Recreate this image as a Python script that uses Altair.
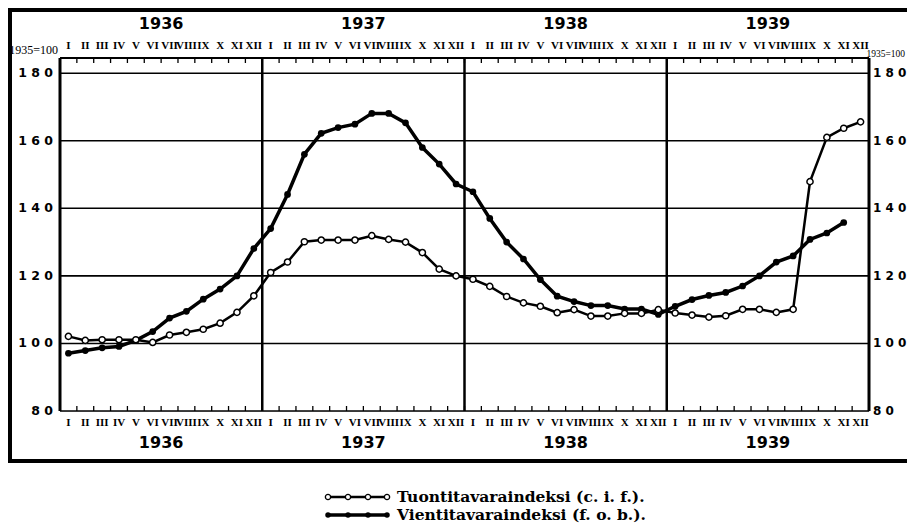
import altair as alt
import pandas as pd

# ---------------- data ----------------
years = [1936, 1937, 1938, 1939]
roman = ["I", "II", "III", "IV", "V", "VI", "VII", "VIII", "IX", "X", "XI", "XII"]

import_index = [
    102.1, 100.9, 101.1, 101.1, 101.1, 100.3, 102.5, 103.3, 104.2, 106.0, 109.2, 114.1,
    121.0, 124.1, 130.1, 130.6, 130.6, 130.6, 131.9, 130.8, 130.0, 126.9, 122.0, 120.0,
    119.0, 116.9, 113.9, 112.0, 111.0, 109.1, 110.0, 108.1, 108.1, 108.9, 108.9, 110.0,
    109.0, 108.4, 107.8, 108.2, 110.1, 110.1, 109.2, 110.1, 147.9, 161.0, 163.7, 165.6,
]
export_index = [
    97.1, 97.9, 98.7, 99.1, 100.9, 103.5, 107.5, 109.5, 113.1, 116.1, 120.0, 128.1,
    134.0, 144.1, 156.0, 162.2, 163.9, 164.9, 168.1, 168.1, 165.3, 158.0, 153.1, 147.2,
    144.9, 137.0, 130.0, 125.0, 118.9, 114.0, 112.4, 111.2, 111.2, 110.2, 110.2, 108.6,
    111.0, 113.0, 114.2, 115.1, 117.0, 120.0, 124.1, 125.9, 130.8, 132.7, 135.8,
]
y_ticks = [80, 100, 120, 140, 160, 180]
legend_labels = ["Tuontitavaraindeksi (c. i. f.).", "Vientitavaraindeksi (f. o. b.)."]

# ---------------- layout ----------------
W, H = 809, 353
xs = alt.Scale(domain=[0, 48], nice=False, zero=False)
ys = alt.Scale(domain=[80, 184.5], nice=False, zero=False)
SERIF = "Liberation Serif"
SANS = "DejaVu Sans"

df_imp = pd.DataFrame({"pos": [i + 0.5 for i in range(len(import_index))], "val": import_index})
df_exp = pd.DataFrame({"pos": [i + 0.5 for i in range(len(export_index))], "val": export_index})
df_months = pd.DataFrame({
    "pos": [i + 0.5 for i in range(48)],
    "lab": [roman[i % 12] for i in range(48)],
})
df_years = pd.DataFrame({"pos": [i * 12 + 6 for i in range(4)], "lab": [str(y) for y in years]})
df_bounds = pd.DataFrame({"b": list(range(1, 48))})
df_div = pd.DataFrame({"b": [12, 24, 36]})
df_edges = pd.DataFrame({"b": [0, 48]})
df_y = pd.DataFrame({"v": y_ticks, "lab": [" ".join(str(v)) for v in y_ticks]})

X = lambda f: alt.X(f, type="quantitative", scale=xs, axis=None)
Y = lambda f: alt.Y(f, type="quantitative", scale=ys, axis=None)

grid = alt.Chart(df_y).mark_rule(color="black", strokeWidth=1.6).encode(
    y=Y("v"), x=alt.value(0), x2=alt.value(W))
top_line = alt.Chart(df_y.head(1)).mark_rule(color="black", strokeWidth=2).encode(
    y=alt.value(0), x=alt.value(0), x2=alt.value(W))
edges = alt.Chart(df_edges).mark_rule(color="black", strokeWidth=3).encode(
    x=X("b"), y=alt.value(0), y2=alt.value(H))
dividers = alt.Chart(df_div).mark_rule(color="black", strokeWidth=2.5).encode(
    x=X("b"), y=alt.value(0), y2=alt.value(H))
ticks_top = alt.Chart(df_bounds).mark_rule(color="black", strokeWidth=1.3).encode(
    x=X("b"), y=alt.value(0), y2=alt.value(5))
ticks_bot = alt.Chart(df_bounds).mark_rule(color="black", strokeWidth=1.3).encode(
    x=X("b"), y=alt.value(H - 5), y2=alt.value(H))

imp_line = alt.Chart(df_imp).mark_line(color="black", strokeWidth=2.5).encode(x=X("pos"), y=Y("val"))
exp_line = alt.Chart(df_exp).mark_line(color="black", strokeWidth=3.5).encode(x=X("pos"), y=Y("val"))
exp_pts = alt.Chart(df_exp).mark_circle(color="black", size=45, opacity=1).encode(x=X("pos"), y=Y("val"))
imp_pts = alt.Chart(df_imp).mark_point(shape="circle", filled=True, fill="white", stroke="black",
                                        strokeWidth=1.5, size=38, opacity=1).encode(x=X("pos"), y=Y("val"))

mon_top = alt.Chart(df_months).mark_text(font=SERIF, fontWeight="bold", fontSize=11, baseline="middle").encode(
    x=X("pos"), y=alt.value(-12), text="lab:N")
mon_bot = alt.Chart(df_months).mark_text(font=SERIF, fontWeight="bold", fontSize=11, baseline="middle").encode(
    x=X("pos"), y=alt.value(H + 12), text="lab:N")
yr_top = alt.Chart(df_years).mark_text(font=SANS, fontWeight="bold", fontSize=16, baseline="middle").encode(
    x=X("pos"), y=alt.value(-34), text="lab:N")
yr_bot = alt.Chart(df_years).mark_text(font=SANS, fontWeight="bold", fontSize=16, baseline="middle").encode(
    x=X("pos"), y=alt.value(H + 32), text="lab:N")

ylab_l = alt.Chart(df_y).mark_text(font=SANS, fontWeight="bold", fontSize=12.5, align="right", baseline="middle").encode(
    y=Y("v"), x=alt.value(-7), text="lab:N")
ylab_r = alt.Chart(df_y).mark_text(font=SANS, fontWeight="bold", fontSize=12, align="left", baseline="middle").encode(
    y=Y("v"), x=alt.value(W + 4), text="lab:N")
base_l = alt.Chart(df_y.head(1)).mark_text(font="Liberation Sans Narrow", fontSize=12, align="right",
                                           baseline="bottom", text="1935=100").encode(
    x=alt.value(-2), y=alt.value(-1))
base_r = alt.Chart(df_y.head(1)).mark_text(font="Liberation Sans Narrow", fontSize=9.5, align="right",
                                           baseline="bottom", text="1935=100").encode(
    x=alt.value(W + 36), y=alt.value(1))

# outer frame (open on the right)
frame_l = alt.Chart(df_y.head(1)).mark_rule(color="black", strokeWidth=4).encode(
    x=alt.value(-50), y=alt.value(-48), y2=alt.value(405))
frame_t = alt.Chart(df_y.head(1)).mark_rule(color="black", strokeWidth=4).encode(
    x=alt.value(-52), x2=alt.value(W + 40), y=alt.value(-48))
frame_b = alt.Chart(df_y.head(1)).mark_rule(color="black", strokeWidth=4).encode(
    x=alt.value(-52), x2=alt.value(W + 40), y=alt.value(403))

# legend (drawn by hand, below the frame)
leg_pts = pd.DataFrame({
    "px": [268, 288, 308, 327] * 2,
    "py": [439] * 4 + [457] * 4,
    "s": [legend_labels[0]] * 4 + [legend_labels[1]] * 4,
})
leg_txt = pd.DataFrame({"px": [337, 337], "py": [439, 457], "s": legend_labels})
PX = alt.X("px:Q", scale=None, axis=None)
PY = alt.Y("py:Q", scale=None, axis=None)
leg_l1 = alt.Chart(leg_pts).transform_filter(alt.datum.s == legend_labels[0]).mark_line(
    color="black", strokeWidth=2.5).encode(x=PX, y=PY)
leg_l2 = alt.Chart(leg_pts).transform_filter(alt.datum.s == legend_labels[1]).mark_line(
    color="black", strokeWidth=3.5).encode(x=PX, y=PY)
leg_p1 = alt.Chart(leg_pts).transform_filter(alt.datum.s == legend_labels[0]).mark_point(
    shape="circle", filled=True, fill="white", stroke="black", strokeWidth=1.3, size=28, opacity=1).encode(x=PX, y=PY)
leg_p2 = alt.Chart(leg_pts).transform_filter(alt.datum.s == legend_labels[1]).mark_circle(
    color="black", size=30, opacity=1).encode(x=PX, y=PY)
leg_t = alt.Chart(leg_txt).mark_text(font="DejaVu Serif", fontWeight="bold", fontSize=15.5, align="left",
                                     baseline="middle").encode(x=PX, y=PY, text="s:N")

chart = alt.layer(
    grid, top_line, dividers, edges, ticks_top, ticks_bot,
    imp_line, exp_line, exp_pts, imp_pts,
    mon_top, mon_bot, yr_top, yr_bot, ylab_l, ylab_r, base_l, base_r,
    frame_l, frame_t, frame_b,
    leg_l1, leg_l2, leg_p1, leg_p2, leg_t,
).properties(
    width=W, height=H,
    autosize=alt.AutoSizeParams(type="none"),
    padding={"left": 52, "top": 50, "right": 38, "bottom": 113},
).configure_view(stroke=None).configure(background="white")

chart.save("out.html", embed_options={"renderer": "svg", "actions": False})
